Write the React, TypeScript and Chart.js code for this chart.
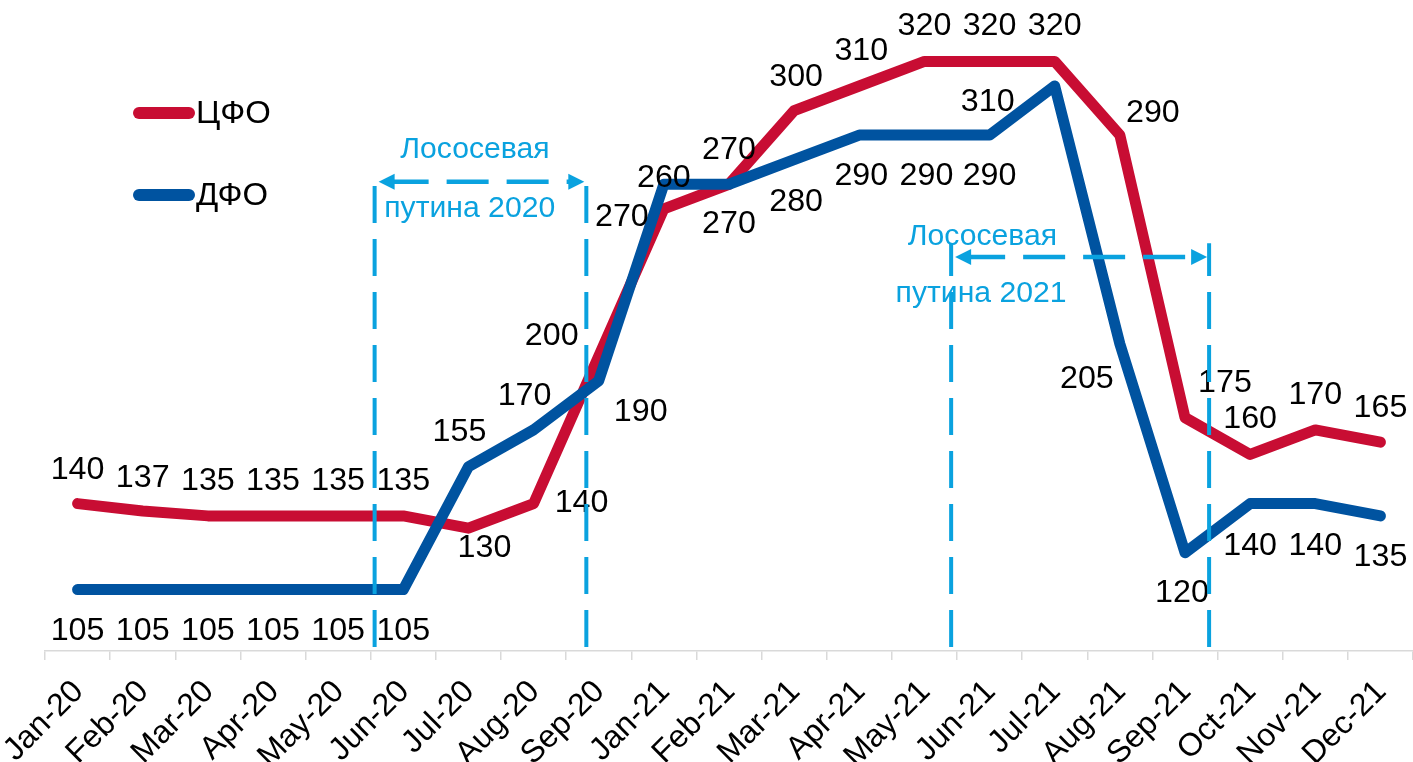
import React, { useEffect, useRef } from 'react';
import { Chart, registerables } from 'chart.js';

Chart.register(...registerables);

// ---- data ----
const categories = [
  'Jan-20', 'Feb-20', 'Mar-20', 'Apr-20', 'May-20', 'Jun-20', 'Jul-20', 'Aug-20', 'Sep-20',
  'Jan-21', 'Feb-21', 'Mar-21', 'Apr-21', 'May-21', 'Jun-21', 'Jul-21', 'Aug-21', 'Sep-21',
  'Oct-21', 'Nov-21', 'Dec-21',
];
const cfoValues = [140, 137, 135, 135, 135, 135, 130, 140, 200, 260, 270, 300, 310, 320, 320, 320, 290, 175, 160, 170, 165];
const dfoValues = [105, 105, 105, 105, 105, 105, 155, 170, 190, 270, 270, 280, 290, 290, 290, 310, 205, 120, 140, 140, 135];
const seriesNames = ['ЦФО', 'ДФО'];

// ---- label offsets (px) ----
const cfoLabelOffsets: [number, number][] = [
  [0, -36], [0, -35], [0, -37], [0, -37], [0, -37], [0, -37], [16, 18], [48, -3], [-47, -22],
  [0, -33], [0, -36], [2, -36], [2, -37], [0, -37], [0, -37], [0, -37], [33, -24], [40, -37],
  [0, -38], [0, -37], [0, -36],
];
const dfoLabelOffsets: [number, number][] = [
  [0, 39], [0, 39], [0, 39], [0, 39], [0, 39], [0, 39], [-9, -37], [-9, -36], [42, 29],
  [-42, 31], [0, 38], [2, 40], [2, 39], [2, 39], [0, 39], [-67, 14], [-33, 33], [-3, 38],
  [0, 40], [0, 40], [0, 39],
];
const LABEL_SHIFT_Y = 2.5;

// ---- annotations (category index / value units) ----
const salmonRuns = [
  { title: 'Лососевая', subtitle: 'путина 2020', start: 4.56, end: 7.81, arrowAt: 271, lineTop: 275, titleX: 6.1, subtitleX: 6.02, titleAt: 284, subtitleAt: 260 },
  { title: 'Лососевая', subtitle: 'путина 2021', start: 13.41, end: 17.37, arrowAt: 240.4, lineTop: 246, titleX: 13.89, subtitleX: 13.87, titleAt: 248.5, subtitleAt: 225.5 },
];

const RED = '#C80D33';
const BLUE = '#0053A0';
const CYAN = '#0AA2DF';
const FONT = '"Liberation Sans", Arial, sans-serif';
const STRETCH = 1.04;

function stretchText(ctx: CanvasRenderingContext2D, text: string, x: number, y: number) {
  ctx.save();
  ctx.translate(x, y);
  ctx.scale(STRETCH, 1);
  ctx.fillText(text, 0, 0);
  ctx.restore();
}

const drawPlugin = {
  id: 'customDraw',
  afterDatasetsDraw(chart: any) {
    const ctx: CanvasRenderingContext2D = chart.ctx;
    const xs = chart.scales.x;
    const ys = chart.scales.y;
    const bottom = chart.chartArea.bottom;
    ctx.save();

    // data labels
    ctx.font = `31px ${FONT}`;
    ctx.fillStyle = '#000';
    ctx.textAlign = 'center';
    ctx.textBaseline = 'middle';
    const drawLabels = (vals: number[], offs: [number, number][]) => {
      vals.forEach((v, i) => {
        const px = xs.getPixelForValue(i);
        const py = ys.getPixelForValue(v);
        stretchText(ctx, String(v), px + offs[i][0], py + offs[i][1] + LABEL_SHIFT_Y);
      });
    };
    drawLabels(cfoValues, cfoLabelOffsets);
    drawLabels(dfoValues, dfoLabelOffsets);

    // legend
    const legendItems = [
      { name: seriesNames[0], color: RED, y: 113 },
      { name: seriesNames[1], color: BLUE, y: 195 },
    ];
    legendItems.forEach((it) => {
      ctx.strokeStyle = it.color;
      ctx.lineWidth = 12;
      ctx.lineCap = 'round';
      ctx.setLineDash([]);
      ctx.beginPath();
      ctx.moveTo(139, it.y);
      ctx.lineTo(189, it.y);
      ctx.stroke();
      ctx.textAlign = 'left';
      ctx.font = `31px ${FONT}`;
      ctx.fillStyle = '#000';
      ctx.save();
      ctx.translate(196, it.y);
      ctx.scale(1.06, 1);
      ctx.fillText(it.name, 0, 1);
      ctx.restore();
    });

    // salmon-run annotations
    salmonRuns.forEach((r) => {
      const x1 = xs.getPixelForValue(r.start);
      const x2 = xs.getPixelForValue(r.end);
      const top = ys.getPixelForValue(r.lineTop);
      const ay = ys.getPixelForValue(r.arrowAt);
      ctx.strokeStyle = CYAN;
      ctx.fillStyle = CYAN;
      ctx.lineCap = 'butt';
      // vertical dashed lines (drawn from the axis upward)
      ctx.lineWidth = 4;
      ctx.setLineDash([37, 16]);
      [x1, x2].forEach((xx) => {
        ctx.beginPath();
        ctx.moveTo(xx, bottom - 4);
        ctx.lineTo(xx, top);
        ctx.stroke();
      });
      // horizontal dashed double arrow
      ctx.lineWidth = 4.5;
      ctx.setLineDash([42, 18]);
      ctx.beginPath();
      ctx.moveTo(x1 + 12, ay);
      ctx.lineTo(x2 - 12, ay);
      ctx.stroke();
      ctx.setLineDash([]);
      const head = (tipX: number, dir: number) => {
        ctx.beginPath();
        ctx.moveTo(tipX, ay);
        ctx.lineTo(tipX - dir * 16, ay - 8);
        ctx.lineTo(tipX - dir * 16, ay + 8);
        ctx.closePath();
        ctx.fill();
      };
      head(x1 + 4, -1);
      head(x2 - 2, 1);
      // texts
      ctx.font = `29px ${FONT}`;
      ctx.textAlign = 'center';
      ctx.textBaseline = 'middle';
      stretchText(ctx, r.title, xs.getPixelForValue(r.titleX), ys.getPixelForValue(r.titleAt));
      stretchText(ctx, r.subtitle, xs.getPixelForValue(r.subtitleX), ys.getPixelForValue(r.subtitleAt));
    });

    ctx.restore();
  },
};

export default function App() {
  const canvasRef = useRef<HTMLCanvasElement | null>(null);

  useEffect(() => {
    if (!canvasRef.current) return;
    const chart = new Chart(canvasRef.current, {
      type: 'line',
      data: {
        labels: categories,
        datasets: [
          {
            label: seriesNames[0],
            data: cfoValues,
            borderColor: RED,
            backgroundColor: RED,
            borderWidth: 11,
            pointRadius: 0,
            tension: 0,
            borderJoinStyle: 'round',
            borderCapStyle: 'round',
            order: 1,
          },
          {
            label: seriesNames[1],
            data: dfoValues,
            borderColor: BLUE,
            backgroundColor: BLUE,
            borderWidth: 11,
            pointRadius: 0,
            tension: 0,
            borderJoinStyle: 'round',
            borderCapStyle: 'round',
            order: 0,
          },
        ],
      },
      options: {
        responsive: false,
        animation: false,
        layout: { padding: { left: 0, right: 0, top: 0, bottom: 0 } },
        plugins: {
          legend: { display: false },
          tooltip: { enabled: false },
          title: { display: false },
        },
        scales: {
          x: {
            offset: true,
            grid: {
              display: true,
              drawOnChartArea: false,
              drawTicks: true,
              tickLength: 9,
              color: '#D9D9D9',
              lineWidth: 1.5,
              offset: true,
            },
            border: { display: true, color: '#D9D9D9', width: 1.5 },
            ticks: {
              color: '#000',
              font: { family: FONT, size: 32 },
              maxRotation: 45,
              minRotation: 45,
              autoSkip: false,
              padding: 13,
              labelOffset: 1,
            },
            afterFit: (s: any) => {
              s.height = 111;
              s.paddingLeft = 45;
              s.paddingRight = 0;
            },
          },
          y: {
            display: false,
            min: 80,
            max: 345,
          },
        },
      },
      plugins: [drawPlugin],
    } as any);
    return () => chart.destroy();
  }, []);

  return (
    <div style={{ position: 'fixed', left: 0, top: 0, width: 1413, height: 762, background: '#fff' }}>
      <canvas ref={canvasRef} width={1413} height={762} style={{ display: 'block' }} />
    </div>
  );
}
